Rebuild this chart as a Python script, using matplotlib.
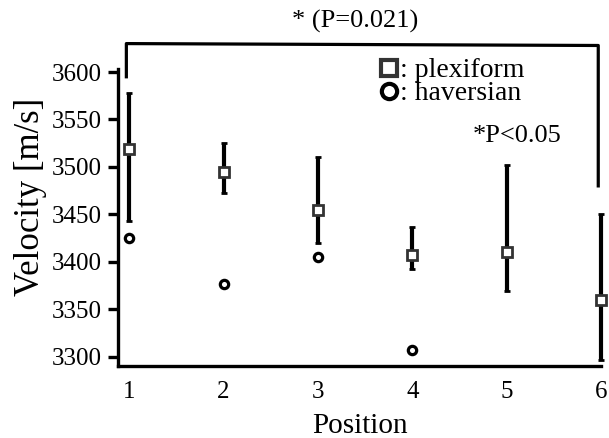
import matplotlib
matplotlib.use("Agg")
import matplotlib.pyplot as plt
from matplotlib.lines import Line2D

plt.rcParams["font.family"] = ["Liberation Serif", "DejaVu Serif"]

# 数据
positions = [1, 2, 3, 4, 5, 6]
plexiform_mean = [3519, 3495, 3455, 3407, 3410, 3360]
plexiform_low = [3443, 3472, 3420, 3392, 3369, 3297]
plexiform_high = [3578, 3525, 3510, 3437, 3502, 3450]
haversian_pos = [1, 2, 3, 4]
haversian_mean = [3425, 3377, 3405, 3307]
y_ticks = [3300, 3350, 3400, 3450, 3500, 3550, 3600]

fig = plt.figure(figsize=(6.09, 4.38), dpi=100)
ax = fig.add_axes([0.194, 0.164, 0.793, 0.678])

err_low = [m - l for m, l in zip(plexiform_mean, plexiform_low)]
err_high = [h - m for m, h in zip(plexiform_mean, plexiform_high)]

ax.errorbar(
    positions,
    plexiform_mean,
    yerr=[err_low, err_high],
    fmt="s",
    color="black",
    ecolor="black",
    elinewidth=3,
    capsize=2.5,
    capthick=3,
    markersize=7,
    markerfacecolor="white",
    markeredgecolor="#333333",
    markeredgewidth=2,
    clip_on=False,
    zorder=3,
)
ax.plot(
    haversian_pos,
    haversian_mean,
    "o",
    markersize=6,
    markerfacecolor="white",
    markeredgecolor="black",
    markeredgewidth=2.3,
    linestyle="none",
    clip_on=False,
    zorder=3,
)

ax.set_xlim(0.883, 6.0)
ax.set_ylim(3290, 3603)
ax.set_xticks(positions)
ax.set_yticks(y_ticks)

for s in ["top", "right"]:
    ax.spines[s].set_visible(False)
for s in ["left", "bottom"]:
    ax.spines[s].set_linewidth(2.4)

ax.tick_params(axis="y", length=7, width=2.4, labelsize=18, pad=4.5)
ax.tick_params(axis="x", length=0, labelsize=18, pad=11)

ax.set_xlabel("Position", fontsize=21, labelpad=7)
ax.set_ylabel("Velocity [m/s]", fontsize=25)
ax.yaxis.set_label_coords(-0.148, 0.57)

# 显著性括号
ax.plot(
    [0.97, 0.97, 5.97, 5.97],
    [3595, 3630, 3628, 3480],
    color="black",
    linewidth=2.3,
    clip_on=False,
)
ax.text(3.39, 3653, "* (P=0.021)", ha="center", va="center", fontsize=19)
ax.text(5.11, 3533, "*P<0.05", ha="center", va="center", fontsize=19)

# 图例
handles = [
    Line2D([], [], marker="s", linestyle="none", markersize=11,
           markerfacecolor="white", markeredgecolor="#333333", markeredgewidth=3),
    Line2D([], [], marker="o", linestyle="none", markersize=11,
           markerfacecolor="white", markeredgecolor="black", markeredgewidth=3),
]
ax.legend(
    handles,
    [": plexiform", ": haversian"],
    loc="upper left",
    bbox_to_anchor=(0.53, 1.057),
    frameon=False,
    fontsize=20,
    handlelength=0.7,
    handletextpad=0.05,
    labelspacing=-0.08,
    borderpad=0.2,
    borderaxespad=0,
)

plt.savefig("out.png", dpi=100)
